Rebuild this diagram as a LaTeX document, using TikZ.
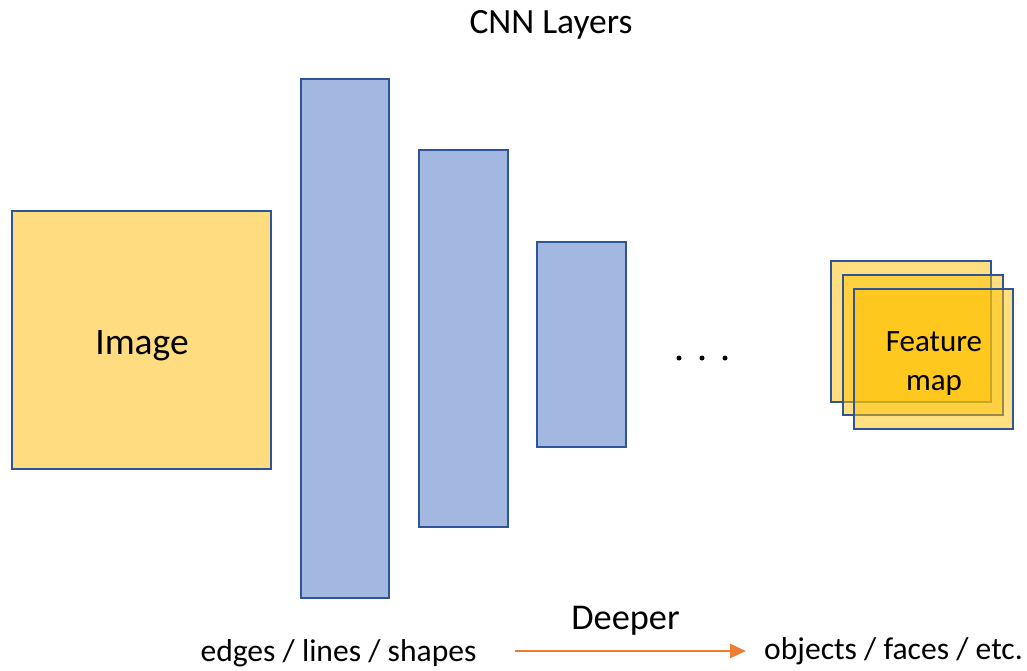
\documentclass[tikz,border=0pt]{standalone}
\usepackage{fontspec}
\setmainfont{Carlito}
\usetikzlibrary{arrows.meta}
\definecolor{gold}{HTML}{FFDC7F}
\definecolor{fmgold}{HTML}{FFC000}
\definecolor{bluefill}{HTML}{A2B8E1}
\definecolor{blueline}{HTML}{2F5597}
\definecolor{orangeline}{HTML}{ED7D31}
\tikzset{
  layerbox/.style={draw=blueline, line width=2.5pt, fill=bluefill},
  imgbox/.style={draw=blueline, line width=2.5pt, fill=gold},
  fmbox/.style={draw=blueline, line width=2.5pt, fill=fmgold, fill opacity=0.5},
  lbl/.style={inner sep=0pt, text=black},
  dotc/.style={circle, fill=black, inner sep=0pt, minimum size=5pt}
}
\begin{document}
\begin{tikzpicture}[x=1pt, y=-1pt]
\useasboundingbox (0,0) rectangle (1027,670);
% title
\node[lbl, anchor=base] (title) at (551,33) {\fontsize{35.5}{40}\selectfont CNN Layers};
% image
\draw[imgbox] (12,211) rectangle (271,469);
\node[lbl, anchor=base] (img) at (142,354) {\fontsize{37.5}{44}\selectfont Image};
% layers
\draw[layerbox] (301,79) rectangle (389,598);
\draw[layerbox] (419,150) rectangle (508,527);
\draw[layerbox] (537,242) rectangle (626,447);
% dots
\node[dotc] (d1) at (679,358) {};
\node[dotc] (d2) at (702,358) {};
\node[dotc] (d3) at (725,358) {};
% feature maps
\draw[fmbox] (831,261) rectangle (991,402);
\draw[fmbox] (843,275) rectangle (1003,415);
\draw[fmbox] (854,289) rectangle (1013,429);
\node[lbl, anchor=base] (fm1) at (934,351) {\fontsize{31}{36}\selectfont Feature};
\node[lbl, anchor=base] (fm2) at (934,390) {\fontsize{31}{36}\selectfont map};
% bottom
\node[lbl, anchor=base] (edges) at (338.5,661) {\fontsize{31.6}{36}\selectfont edges / lines / shapes};
\node[lbl, anchor=base] (objs) at (893.5,659) {\fontsize{31.6}{36}\selectfont objects / faces / etc.};
\node[lbl, anchor=base] (deeper) at (625.5,629) {\fontsize{36.3}{40}\selectfont Deeper};
\coordinate (a1) at (515,651);
\coordinate (a2) at (746,651);
\draw[orangeline, line width=2.8pt, -{Triangle[length=16pt, width=14pt]}] (a1) -- (a2);
\end{tikzpicture}
\end{document}
